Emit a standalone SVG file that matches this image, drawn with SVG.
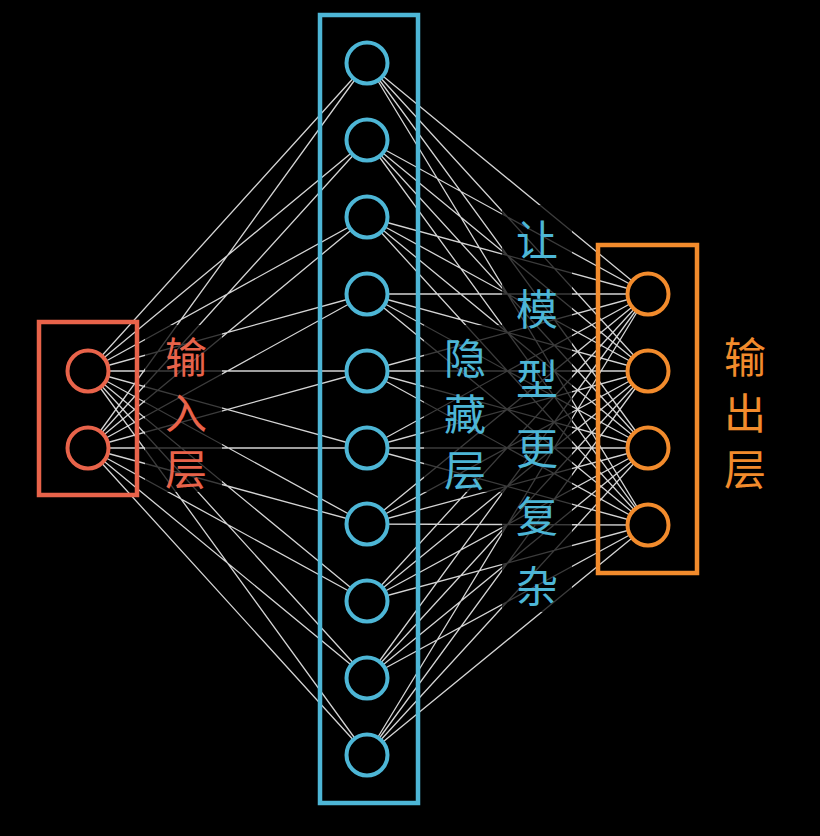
<svg xmlns="http://www.w3.org/2000/svg" width="820" height="836" viewBox="0 0 820 836">
<style>
.edge{stroke:#d4d4d4;stroke-width:1.3;fill:none}
.band{fill:#000;fill-opacity:0.72}
.in{stroke:#E8634A;fill:#000;stroke-width:4}
.hid{stroke:#4DB6D6;fill:#000;stroke-width:4}
.out{stroke:#F28B2C;fill:#000;stroke-width:4}
.box{fill:none;stroke-width:4.5}
.lbl{font-family:"Noto Sans CJK SC","Noto Sans",sans-serif;font-size:42px;text-anchor:middle;dominant-baseline:central}
</style>
<rect width="820" height="836" fill="#000"/>
<g id="connectors">
<path class="edge" d="M88 371L367 63M88 371L367 140M88 371L367 217M88 371L367 294M88 371L367 371M88 371L367 448M88 371L367 524M88 371L367 601M88 371L367 678M88 371L367 755
M88 448L367 63M88 448L367 140M88 448L367 217M88 448L367 294M88 448L367 371M88 448L367 448M88 448L367 524M88 448L367 601M88 448L367 678M88 448L367 755"/>
<path class="edge" d="M367 63L648 294M367 63L648 371M367 63L648 448M367 63L648 525
M367 140L648 294M367 140L648 371M367 140L648 448M367 140L648 525
M367 217L648 294M367 217L648 371M367 217L648 448M367 217L648 525
M367 294L648 294M367 294L648 371M367 294L648 448M367 294L648 525
M367 371L648 294M367 371L648 371M367 371L648 448M367 371L648 525
M367 448L648 294M367 448L648 371M367 448L648 448M367 448L648 525
M367 524L648 294M367 524L648 371M367 524L648 448M367 524L648 525
M367 601L648 294M367 601L648 371M367 601L648 448M367 601L648 525
M367 678L648 294M367 678L648 371M367 678L648 448M367 678L648 525
M367 755L648 294M367 755L648 371M367 755L648 448M367 755L648 525"/>
</g>
<rect class="band" x="145" y="325" width="77" height="167"/>
<rect class="band" x="424" y="325" width="78" height="167"/>
<rect class="band" x="502" y="205" width="70" height="407"/>
<g id="input-layer">
<rect class="box" x="39" y="322" width="98" height="173" stroke="#E8634A"/>
<circle id="in1" class="in" cx="88" cy="371" r="20.5"/>
<circle id="in2" class="in" cx="88" cy="448" r="20.5"/>
</g>
<g id="hidden-layer">
<rect class="box" x="320" y="15" width="98" height="788" stroke="#4DB6D6"/>
<circle id="h1" class="hid" cx="367" cy="63" r="20.5"/>
<circle id="h2" class="hid" cx="367" cy="140" r="20.5"/>
<circle id="h3" class="hid" cx="367" cy="217" r="20.5"/>
<circle id="h4" class="hid" cx="367" cy="294" r="20.5"/>
<circle id="h5" class="hid" cx="367" cy="371" r="20.5"/>
<circle id="h6" class="hid" cx="367" cy="448" r="20.5"/>
<circle id="h7" class="hid" cx="367" cy="524" r="20.5"/>
<circle id="h8" class="hid" cx="367" cy="601" r="20.5"/>
<circle id="h9" class="hid" cx="367" cy="678" r="20.5"/>
<circle id="h10" class="hid" cx="367" cy="755" r="20.5"/>
</g>
<g id="output-layer">
<rect class="box" x="598" y="245" width="99" height="328" stroke="#F28B2C"/>
<circle id="o1" class="out" cx="648" cy="294" r="20.5"/>
<circle id="o2" class="out" cx="648" cy="371" r="20.5"/>
<circle id="o3" class="out" cx="648" cy="448" r="20.5"/>
<circle id="o4" class="out" cx="648" cy="525" r="20.5"/>
</g>
<g id="label-input">
<text class="lbl" fill="#E8634A"><tspan x="186" y="354">输</tspan><tspan x="186" y="410">入</tspan><tspan x="186" y="466">层</tspan></text>
</g>
<g id="label-hidden">
<text class="lbl" fill="#4DB6D6"><tspan x="465" y="355">隐</tspan><tspan x="465" y="411">藏</tspan><tspan x="465" y="467">层</tspan></text>
</g>
<g id="label-complex">
<text class="lbl" fill="#4DB6D6"><tspan x="537" y="237">让</tspan><tspan x="537" y="306">模</tspan><tspan x="537" y="376">型</tspan><tspan x="537" y="445">更</tspan><tspan x="537" y="513">复</tspan><tspan x="537" y="583">杂</tspan></text>
</g>
<g id="label-output">
<text class="lbl" fill="#F28B2C"><tspan x="745" y="354">输</tspan><tspan x="745" y="410">出</tspan><tspan x="745" y="466">层</tspan></text>
</g>
</svg>
